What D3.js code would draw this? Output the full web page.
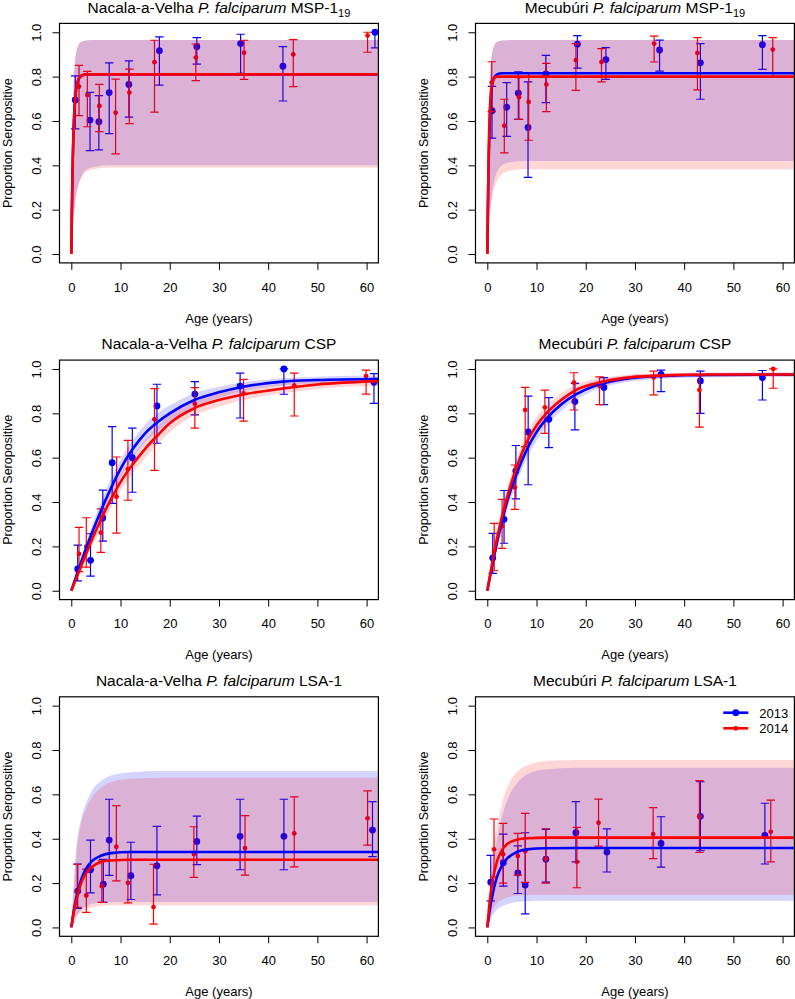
<!DOCTYPE html>
<html><head><meta charset="utf-8">
<script src="https://cdn.jsdelivr.net/npm/d3@7"></script>
<style>
body{margin:0;background:#fff}
text{font-family:Arial,"Liberation Sans",sans-serif;fill:#000}
</style>
</head><body>
<svg id="c" width="795" height="999"></svg>
<script>
// ---------- DATA ----------
const xTicks = [0,10,20,30,40,50,60];
const yTicks = [0,0.2,0.4,0.6,0.8,1.0];
const years = ["2013","2014"];
const sites = ["Nacala-a-Velha","Mecubúri"];
const antigens = ["MSP-1","CSP","LSA-1"];

// observed points: [age, proportion, lower CI, upper CI]
const nvMsp13 = [[0.8,0.695,0.564,0.803],[3.8,0.604,0.466,0.729],[5.6,0.597,0.47,0.714],[7.7,0.728,0.543,0.862],[11.7,0.765,0.617,0.871],[17.9,0.917,0.762,0.979],[25.5,0.935,0.856,0.976],[34.4,0.949,0.815,0.991],[43.0,0.847,0.69,0.935],[61.7,1.0,0.93,1.0]];
const nvMsp14 = [[1.57,0.755,0.624,0.851],[3.26,0.717,0.574,0.824],[5.7,0.668,0.552,0.765],[9.0,0.637,0.452,0.789],[11.8,0.728,0.588,0.834],[16.9,0.865,0.64,0.964],[25.3,0.886,0.782,0.947],[35.1,0.908,0.788,0.964],[45.1,0.90,0.755,0.967],[60.2,0.985,0.91,1.0]];
const mbMsp13 = [[0.95,0.646,0.523,0.756],[3.94,0.662,0.531,0.773],[6.3,0.725,0.607,0.822],[8.27,0.571,0.346,0.776],[11.9,0.812,0.683,0.896],[18.3,0.946,0.838,0.985],[24.1,0.877,0.788,0.931],[35.0,0.92,0.825,0.965],[43.3,0.862,0.698,0.949],[55.9,0.944,0.833,0.985]];
const mbMsp14 = [[0.9,0.773,0.642,0.867],[3.45,0.579,0.456,0.698],[6.44,0.707,0.607,0.795],[8.4,0.686,0.513,0.818],[12.0,0.765,0.642,0.86],[18.0,0.874,0.738,0.949],[23.2,0.866,0.776,0.926],[33.9,0.949,0.866,0.983],[42.7,0.907,0.74,0.976],[58.0,0.922,0.80,0.976]];
const nvCsp13 = [[1.3,0.098,0.044,0.206],[3.9,0.137,0.066,0.257],[6.4,0.328,0.224,0.454],[8.3,0.577,0.394,0.74],[12.4,0.60,0.444,0.733],[17.4,0.833,0.665,0.931],[25.1,0.887,0.793,0.943],[34.3,0.923,0.779,0.981],[43.2,1.0,0.886,1.0],[61.5,0.94,0.845,0.979]];
const nvCsp14 = [[1.57,0.166,0.086,0.286],[3.05,0.199,0.106,0.329],[6.0,0.262,0.173,0.369],[9.2,0.424,0.26,0.603],[11.5,0.548,0.408,0.678],[16.9,0.773,0.543,0.911],[25.1,0.843,0.733,0.916],[35.0,0.89,0.765,0.953],[45.3,0.925,0.788,0.981],[59.9,0.968,0.887,0.995]];
const mbCsp13 = [[1.1,0.148,0.078,0.259],[3.4,0.322,0.214,0.452],[5.8,0.54,0.414,0.655],[8.3,0.716,0.478,0.878],[12.5,0.773,0.645,0.871],[17.8,0.853,0.725,0.935],[23.7,0.917,0.839,0.961],[35.3,0.976,0.898,0.995],[43.3,0.946,0.80,0.99],[55.9,0.961,0.86,0.993]];
const mbCsp14 = [[1.4,0.18,0.09,0.304],[3.0,0.292,0.191,0.412],[5.6,0.466,0.367,0.567],[7.7,0.815,0.65,0.917],[11.7,0.827,0.71,0.905],[17.6,0.938,0.815,0.983],[22.8,0.923,0.839,0.964],[33.8,0.962,0.883,0.99],[43.1,0.905,0.738,0.97],[58.1,1.0,0.913,1.0]];
const nvLsa13 = [[1.3,0.164,0.086,0.286],[3.9,0.26,0.156,0.394],[6.5,0.195,0.113,0.307],[7.7,0.394,0.235,0.578],[12.1,0.233,0.126,0.384],[17.4,0.278,0.147,0.456],[25.5,0.388,0.283,0.502],[34.3,0.411,0.26,0.578],[43.2,0.411,0.26,0.578],[61.2,0.439,0.319,0.567]];
const nvLsa14 = [[1.2,0.164,0.09,0.285],[3.05,0.144,0.068,0.263],[6.2,0.186,0.113,0.30],[9.15,0.364,0.21,0.549],[11.5,0.201,0.111,0.34],[16.7,0.092,0.015,0.285],[24.9,0.331,0.226,0.454],[35.3,0.358,0.236,0.504],[45.3,0.424,0.273,0.589],[60.2,0.492,0.371,0.616]];
const mbLsa13 = [[0.7,0.204,0.12,0.325],[3.25,0.292,0.186,0.421],[6.2,0.246,0.153,0.368],[7.7,0.191,0.061,0.427],[11.9,0.308,0.204,0.442],[18.0,0.427,0.296,0.567],[24.3,0.34,0.25,0.444],[35.3,0.379,0.272,0.499],[43.3,0.501,0.346,0.657],[56.4,0.415,0.286,0.56]];
const mbLsa14 = [[1.36,0.352,0.228,0.489],[3.2,0.33,0.2,0.469],[6.2,0.322,0.236,0.424],[7.7,0.344,0.203,0.514],[11.9,0.31,0.2,0.445],[18.2,0.296,0.179,0.451],[22.6,0.472,0.367,0.579],[33.7,0.421,0.31,0.54],[43.1,0.50,0.338,0.662],[57.6,0.431,0.296,0.574]];

// fitted curves: [age, fit, band lower, band upper]
const nvMsp13Fit = [[0,0,0,0],[0.1,0.18,0.04,0.3],[0.3,0.43,0.11,0.62],[0.5,0.58,0.17,0.78],[0.75,0.69,0.23,0.87],[1,0.745,0.27,0.91],[1.5,0.79,0.32,0.945],[2,0.803,0.35,0.957],[3,0.81,0.38,0.963],[5,0.81,0.395,0.965],[8,0.81,0.40,0.965],[62.4,0.81,0.40,0.965]];
const nvMsp14Fit = [[0,0,0,0],[0.1,0.18,0.04,0.3],[0.3,0.43,0.1,0.62],[0.5,0.58,0.16,0.78],[0.75,0.69,0.22,0.87],[1,0.745,0.26,0.91],[1.5,0.79,0.31,0.945],[2,0.803,0.34,0.957],[3,0.81,0.37,0.963],[5,0.81,0.385,0.965],[8,0.81,0.39,0.965],[62.4,0.81,0.39,0.965]];
const mbMsp13Fit = [[0,0,0,0],[0.1,0.18,0.04,0.3],[0.3,0.44,0.11,0.62],[0.5,0.6,0.18,0.78],[0.75,0.71,0.24,0.87],[1,0.765,0.28,0.91],[1.5,0.80,0.34,0.945],[2,0.81,0.37,0.957],[3,0.815,0.40,0.963],[5,0.815,0.415,0.965],[8,0.815,0.42,0.965],[62.4,0.815,0.42,0.965]];
const mbMsp14Fit = [[0,0,0,0],[0.1,0.2,0.04,0.3],[0.3,0.48,0.1,0.62],[0.5,0.64,0.16,0.78],[0.75,0.73,0.21,0.87],[1,0.77,0.25,0.91],[1.5,0.795,0.3,0.945],[2,0.80,0.33,0.957],[3,0.80,0.36,0.963],[5,0.80,0.377,0.965],[8,0.80,0.382,0.965],[62.4,0.80,0.382,0.965]];
const nvCsp13Fit = [[0,0,0,0],[2,0.13,0.11,0.15],[4,0.25,0.22,0.28],[6,0.36,0.32,0.40],[8,0.46,0.42,0.50],[10,0.55,0.51,0.59],[12.5,0.64,0.60,0.68],[15,0.71,0.67,0.75],[17.5,0.76,0.72,0.80],[20,0.80,0.765,0.835],[25,0.86,0.83,0.89],[30,0.895,0.87,0.92],[35,0.92,0.90,0.94],[43,0.943,0.927,0.958],[50,0.95,0.935,0.965],[62.4,0.955,0.94,0.97]];
const nvCsp14Fit = [[0,0,0,0],[2,0.11,0.095,0.125],[4,0.22,0.19,0.25],[6,0.32,0.28,0.36],[8,0.41,0.37,0.45],[10,0.49,0.45,0.53],[12.5,0.57,0.53,0.61],[15,0.64,0.60,0.68],[17.5,0.70,0.66,0.74],[20,0.755,0.715,0.795],[25,0.823,0.79,0.855],[30,0.86,0.83,0.89],[35,0.885,0.86,0.91],[43,0.912,0.89,0.935],[50,0.93,0.91,0.95],[62.4,0.945,0.925,0.962]];
const mbCsp13Fit = [[0,0,0,0],[2,0.22,0.19,0.25],[4,0.40,0.36,0.44],[6,0.53,0.49,0.57],[8,0.635,0.595,0.675],[10,0.715,0.675,0.755],[12,0.775,0.74,0.81],[15,0.84,0.81,0.87],[18,0.885,0.86,0.91],[22,0.925,0.905,0.945],[28,0.955,0.94,0.968],[35,0.968,0.955,0.978],[45,0.973,0.963,0.982],[62.4,0.974,0.965,0.983]];
const mbCsp14Fit = [[0,0,0,0],[2,0.24,0.21,0.27],[4,0.42,0.38,0.46],[6,0.56,0.52,0.60],[8,0.67,0.63,0.71],[10,0.745,0.705,0.785],[12,0.80,0.765,0.835],[15,0.86,0.83,0.89],[18,0.905,0.88,0.93],[22,0.935,0.915,0.955],[28,0.96,0.945,0.973],[35,0.97,0.958,0.981],[45,0.975,0.965,0.984],[62.4,0.975,0.966,0.984]];
const nvLsa13Fit = [[0,0,0,0],[0.5,0.075,0.02,0.2],[1,0.134,0.05,0.35],[2,0.215,0.08,0.49],[3,0.265,0.095,0.56],[4,0.295,0.105,0.61],[6,0.323,0.112,0.66],[8,0.335,0.115,0.685],[12,0.34,0.115,0.70],[18,0.34,0.115,0.705],[62.4,0.34,0.115,0.705]];
const nvLsa14Fit = [[0,0,0,0],[0.5,0.07,0.018,0.19],[1,0.12,0.045,0.33],[2,0.20,0.07,0.47],[3,0.245,0.082,0.535],[4,0.27,0.09,0.58],[6,0.295,0.097,0.63],[8,0.302,0.1,0.655],[12,0.305,0.1,0.67],[18,0.305,0.1,0.675],[62.4,0.305,0.1,0.675]];
const mbLsa13Fit = [[0,0,0,0],[0.5,0.08,0.02,0.15],[1,0.14,0.05,0.26],[2,0.23,0.08,0.40],[3,0.28,0.095,0.50],[4,0.31,0.105,0.57],[6,0.34,0.115,0.65],[8,0.352,0.118,0.69],[12,0.357,0.12,0.713],[18,0.358,0.12,0.72],[62.4,0.358,0.12,0.72]];
const mbLsa14Fit = [[0,0,0,0],[0.5,0.12,0.035,0.2],[1,0.2,0.07,0.33],[2,0.3,0.11,0.46],[3,0.35,0.125,0.56],[4,0.375,0.135,0.63],[6,0.395,0.143,0.70],[8,0.402,0.146,0.73],[12,0.405,0.146,0.75],[18,0.405,0.146,0.755],[62.4,0.405,0.146,0.755]];

// ---------- LAYOUT / STYLE ----------
const colLeft = [59.5, 475.5], plotW = 318.9;
const rowTop = [23.4, 360.1, 696.8], plotH = 239.5;
const titleBase = [13.3, 349.1, 685.8];
const colors = {"2013":"#0000ff","2014":"#ff0000"};
const bandFill = {"2013":"rgba(0,0,255,0.17)","2014":"rgba(255,0,0,0.16)"};
const radius = {"2013":3.4,"2014":2.4};

const panels = [
  {site:0, ag:0, sub:"19", d:{"2013":nvMsp13,"2014":nvMsp14}, f:{"2013":nvMsp13Fit,"2014":nvMsp14Fit}},
  {site:1, ag:0, sub:"19", d:{"2013":mbMsp13,"2014":mbMsp14}, f:{"2013":mbMsp13Fit,"2014":mbMsp14Fit}},
  {site:0, ag:1, sub:"",   d:{"2013":nvCsp13,"2014":nvCsp14}, f:{"2013":nvCsp13Fit,"2014":nvCsp14Fit}},
  {site:1, ag:1, sub:"",   d:{"2013":mbCsp13,"2014":mbCsp14}, f:{"2013":mbCsp13Fit,"2014":mbCsp14Fit}},
  {site:0, ag:2, sub:"",   d:{"2013":nvLsa13,"2014":nvLsa14}, f:{"2013":nvLsa13Fit,"2014":nvLsa14Fit}},
  {site:1, ag:2, sub:"",   d:{"2013":mbLsa13,"2014":mbLsa14}, f:{"2013":mbLsa13Fit,"2014":mbLsa14Fit}, legend:true}
];

const svg = d3.select("#c");

panels.forEach((p,i)=>{
  const col=i%2, row=Math.floor(i/2);
  const L=colLeft[col], T=rowTop[row];
  const x=d3.scaleLinear().domain([-2.4,62.4]).range([L,L+plotW]);
  const y=d3.scaleLinear().domain([-0.04,1.04]).range([T+plotH,T]);
  const g=svg.append("g");
  const cid="clip"+i;
  g.append("clipPath").attr("id",cid).append("rect")
    .attr("x",L).attr("y",T).attr("width",plotW).attr("height",plotH);
  const inner=g.append("g").attr("clip-path",`url(#${cid})`);

  // error bars and points
  years.forEach(yr=>{
    const gg=inner.append("g").attr("stroke",colors[yr]).attr("fill",colors[yr]);
    p.d[yr].forEach(r=>{
      const cx=x(r[0]);
      gg.append("line").attr("x1",cx).attr("x2",cx).attr("y1",y(r[2])).attr("y2",y(r[3])).attr("stroke-width",1.2);
      [r[2],r[3]].forEach(v=>gg.append("line").attr("x1",cx-4.2).attr("x2",cx+4.2).attr("y1",y(v)).attr("y2",y(v)).attr("stroke-width",1.2));
      gg.append("circle").attr("cx",cx).attr("cy",y(r[1])).attr("r",radius[yr]).attr("stroke","none");
    });
  });
  // bands
  years.forEach(yr=>{
    const area=d3.area().x(d=>x(d[0])).y0(d=>y(d[2])).y1(d=>y(d[3])).curve(d3.curveMonotoneX);
    inner.append("path").datum(p.f[yr]).attr("d",area).attr("fill",bandFill[yr]).attr("stroke","none");
  });
  // fitted lines
  years.forEach(yr=>{
    const line=d3.line().x(d=>x(d[0])).y(d=>y(d[1])).curve(d3.curveMonotoneX);
    inner.append("path").datum(p.f[yr]).attr("d",line).attr("fill","none")
      .attr("stroke",colors[yr]).attr("stroke-width",2.6);
  });

  // axes
  const ax=g.append("g").attr("transform",`translate(0,${T+plotH})`)
    .call(d3.axisBottom(x).tickValues(xTicks).tickSize(7).tickSizeOuter(0).tickFormat(d3.format("d")));
  ax.selectAll("text").attr("y",28.8).attr("dy",null).style("font-size","13px");
  const ay=g.append("g").attr("transform",`translate(${L},0)`)
    .call(d3.axisLeft(y).tickValues(yTicks).tickSize(7).tickSizeOuter(0).tickFormat(d3.format(".1f")));
  ay.selectAll("text").attr("x",0).attr("y",-18.8).attr("dy",null)
    .attr("transform","rotate(-90)").attr("text-anchor","middle").style("font-size","13px");
  [ax,ay].forEach(a=>{a.selectAll(".domain").remove(); a.selectAll("line").attr("stroke","#000");
    a.attr("font-family",null).attr("font-size",null);});

  // box
  g.append("rect").attr("x",L).attr("y",T).attr("width",plotW).attr("height",plotH)
    .attr("fill","none").attr("stroke","#000").attr("stroke-width",1.2);

  // titles
  const t=g.append("text").attr("x",L+plotW/2).attr("y",titleBase[row]).attr("text-anchor","middle").style("font-size","15.5px");
  t.append("tspan").text(sites[p.site]+" ");
  t.append("tspan").style("font-style","italic").text("P. falciparum");
  t.append("tspan").text(" "+antigens[p.ag]);
  if(p.sub) t.append("tspan").attr("dy",4).style("font-size","11px").text(p.sub);

  g.append("text").attr("x",L+plotW/2).attr("y",T+plotH+59.7).attr("text-anchor","middle")
    .style("font-size","13px").text("Age (years)");
  g.append("text").attr("transform",`translate(${L-47.5},${T+plotH/2}) rotate(-90)`)
    .attr("text-anchor","middle").style("font-size","12.5px").text("Proportion Seropositive");

  if(p.legend){
    years.forEach((yr,k)=>{
      const ly=712.7+k*15.6;
      g.append("line").attr("x1",723.3).attr("x2",748.3).attr("y1",ly).attr("y2",ly)
        .attr("stroke",colors[yr]).attr("stroke-width",2.6);
      g.append("circle").attr("cx",735.8).attr("cy",ly).attr("r",radius[yr]).attr("fill",colors[yr]);
      g.append("text").attr("x",759.3).attr("y",ly+5).style("font-size","13px").text(yr);
    });
  }
});
</script>
</body></html>
